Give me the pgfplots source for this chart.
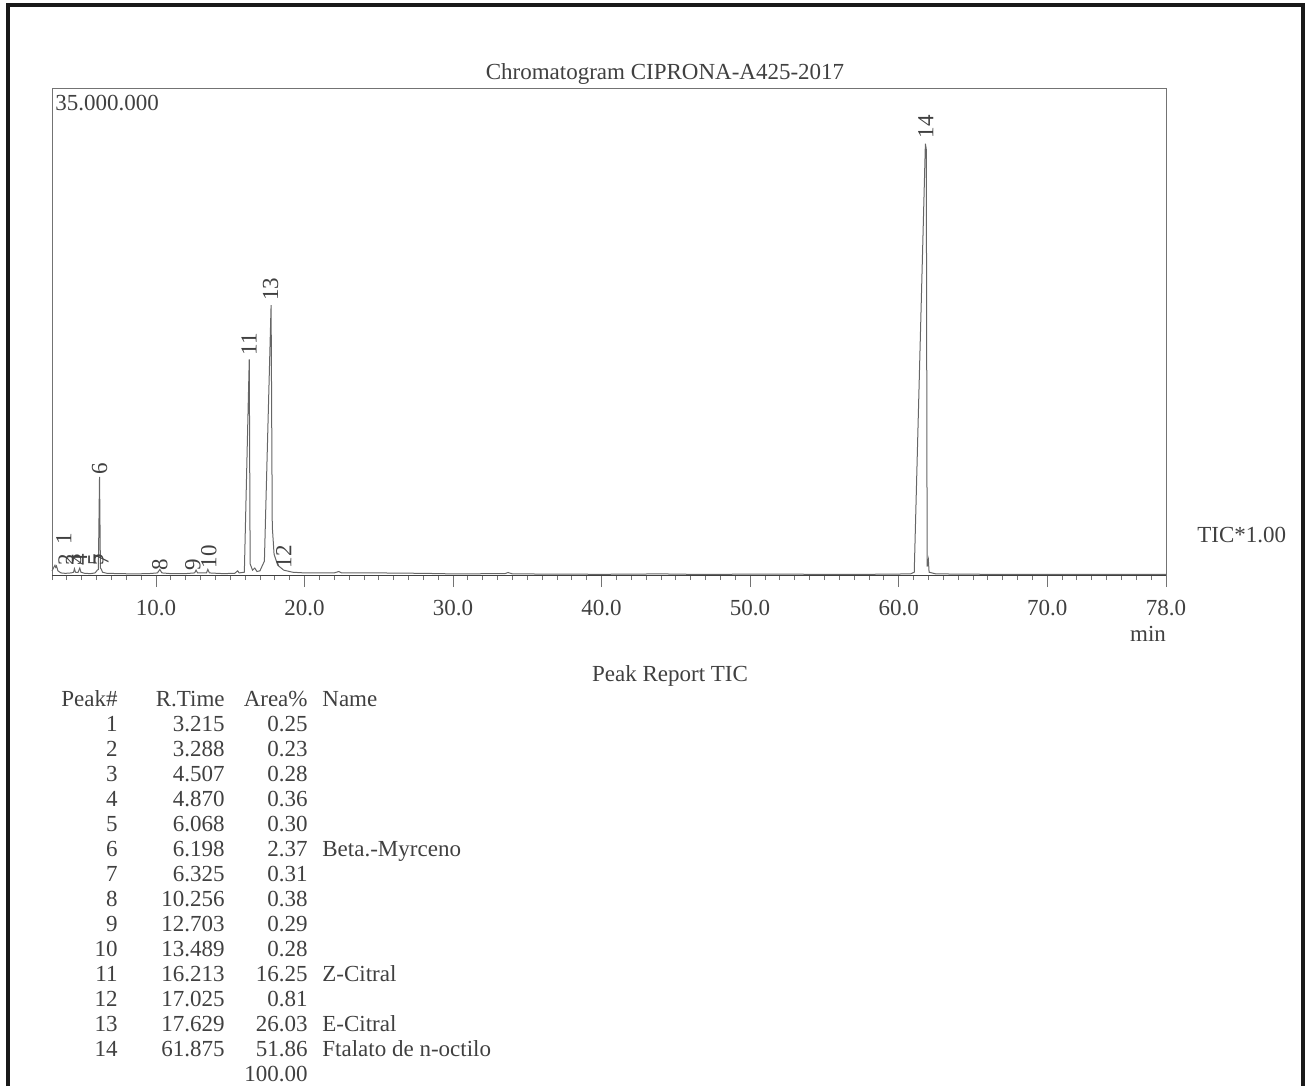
\documentclass[border=0pt]{standalone}
\usepackage{fontspec}
\setmainfont{Liberation Serif}
\usepackage{pgfplots}
\usepackage{pgfplotstable}
\pgfplotsset{compat=1.18}
\newcommand\fs{\fontsize{11.5}{13}\selectfont}
\definecolor{ink}{gray}{0.25}
\pgfplotstableread{
x y
3.0 0.3
3.1 0.5
3.2 0.7
3.25 0.55
3.3 0.65
3.4 0.3
3.6 0.15
3.9 0.12
4.3 0.15
4.45 0.2
4.51 0.45
4.58 0.2
4.75 0.18
4.87 0.5
4.95 0.2
5.2 0.12
5.6 0.1
5.9 0.15
6.05 0.35
6.12 0.4
6.2 7.05
6.26 0.5
6.33 0.4
6.4 0.2
6.7 0.12
7.5 0.1
8.5 0.08
9.5 0.1
10.1 0.15
10.26 0.4
10.4 0.15
11.0 0.1
12.0 0.1
12.6 0.15
12.7 0.35
12.8 0.15
13.4 0.15
13.49 0.4
13.6 0.15
14.5 0.1
15.3 0.12
15.5 0.3
15.6 0.15
15.95 0.2
16.28 15.5
16.34 0.8
16.5 0.35
16.65 0.5
16.8 0.25
17.0 0.3
17.3 1.0
17.75 19.4
17.83 3.5
17.95 1.5
18.2 0.7
18.6 0.35
19.2 0.2
20 0.15
22 0.15
22.3 0.25
22.5 0.15
25 0.15
28 0.12
30 0.08
33.5 0.1
33.7 0.18
34 0.08
40 0.05
44 0.08
46 0.05
52 0.06
55 0.05
58 0.05
60.8 0.08
61.05 0.2
61.8 31.0
61.86 30.6
61.92 0.6
62.0 1.1
62.05 0.2
62.5 0.08
66 0.05
70 0.05
75 0.05
78 0.05
}\trace
\pgfplotstableread{
x y lab
61.83 31.3 14
17.72 19.6 13
16.27 15.7 11
6.20 7.1 6
18.60 0.4 12
13.56 0.4 10
12.48 0.2 9
10.26 0.25 8
3.80 2.1 1
3.95 0.6 2
4.45 0.6 3
4.85 0.6 4
5.96 0.55 5
6.30 0.55 7
}\labels
\begin{document}
\begin{tikzpicture}
\useasboundingbox (0,0) rectangle (654.5pt,-543pt);
\begin{axis}[
  at={(26pt,-287.5pt)}, anchor=south west,
  scale only axis, width=557pt, height=243.5pt,
  xmin=3, xmax=78, ymin=0, ymax=35,
  clip=false,
  axis line style={draw=black!55, line width=0.4pt},
  xtick={10,20,30,40,50,60,70,78},
  xticklabels={10.0,20.0,30.0,40.0,50.0,60.0,70.0,78.0},
  minor xtick={3,4,...,78},
  ytick=\empty,
  xtick pos=lower, tick align=outside,
  major tick length=6pt, minor tick length=2.5pt,
  tick style={black!55, line width=0.4pt},
  tick label style={font=\fs, text=ink},
  xticklabel style={yshift=-3pt},
  /pgf/number format/assume math mode=true,
]
\addplot[black!60, line width=0.5pt] table[x=x,y=y] {\trace};
\addplot[draw=none, mark=none, nodes near coords, point meta=explicit symbolic,
  every node near coord/.append style={rotate=90, anchor=west, inner sep=0.5pt, font=\fs, text=ink}]
  table[x=x,y=y,meta=lab] {\labels};
\end{axis}
\begin{scope}[x=0.5pt,y=-0.5pt]
\draw[black!75, line width=0.5pt] (52,575) -- (1166,575);
\draw[line width=1.6pt, black!90] (8,1086) -- (8,5) -- (1303,5) -- (1303,1086);
\begin{scope}[every node/.style={font=\fs, text=ink, inner sep=0pt}]
\node at (665,74) {Chromatogram CIPRONA-A425-2017};
\node[anchor=west] at (55,103) {35.000.000};
\node[anchor=west] at (1197,535) {TIC*1.00};
\node at (1148,634) {min};
\node at (670,676) {Peak Report TIC};
\node[anchor=base east] at (118,706) {Peak\#};
\node[anchor=base east] at (225,706) {R.Time};
\node[anchor=base east] at (308,706) {Area\%};
\node[anchor=base west] at (322,706) {Name};
\foreach \n/\t/\a/\nm [count=\i from 0] in {
 1/3.215/0.25/,2/3.288/0.23/,3/4.507/0.28/,4/4.870/0.36/,5/6.068/0.30/,
 6/6.198/2.37/Beta.-Myrceno,7/6.325/0.31/,8/10.256/0.38/,9/12.703/0.29/,
 10/13.489/0.28/,11/16.213/16.25/Z-Citral,12/17.025/0.81/,13/17.629/26.03/E-Citral,
 14/61.875/51.86/Ftalato de n-octilo}{
  \node[anchor=base east] at (118,731+25*\i) {\n};
  \node[anchor=base east] at (225,731+25*\i) {\t};
  \node[anchor=base east] at (308,731+25*\i) {\a};
  \node[anchor=base west] at (322,731+25*\i) {\nm};
}
\node[anchor=base east] at (308,1081) {100.00};
\end{scope}
\end{scope}
\end{tikzpicture}
\end{document}
